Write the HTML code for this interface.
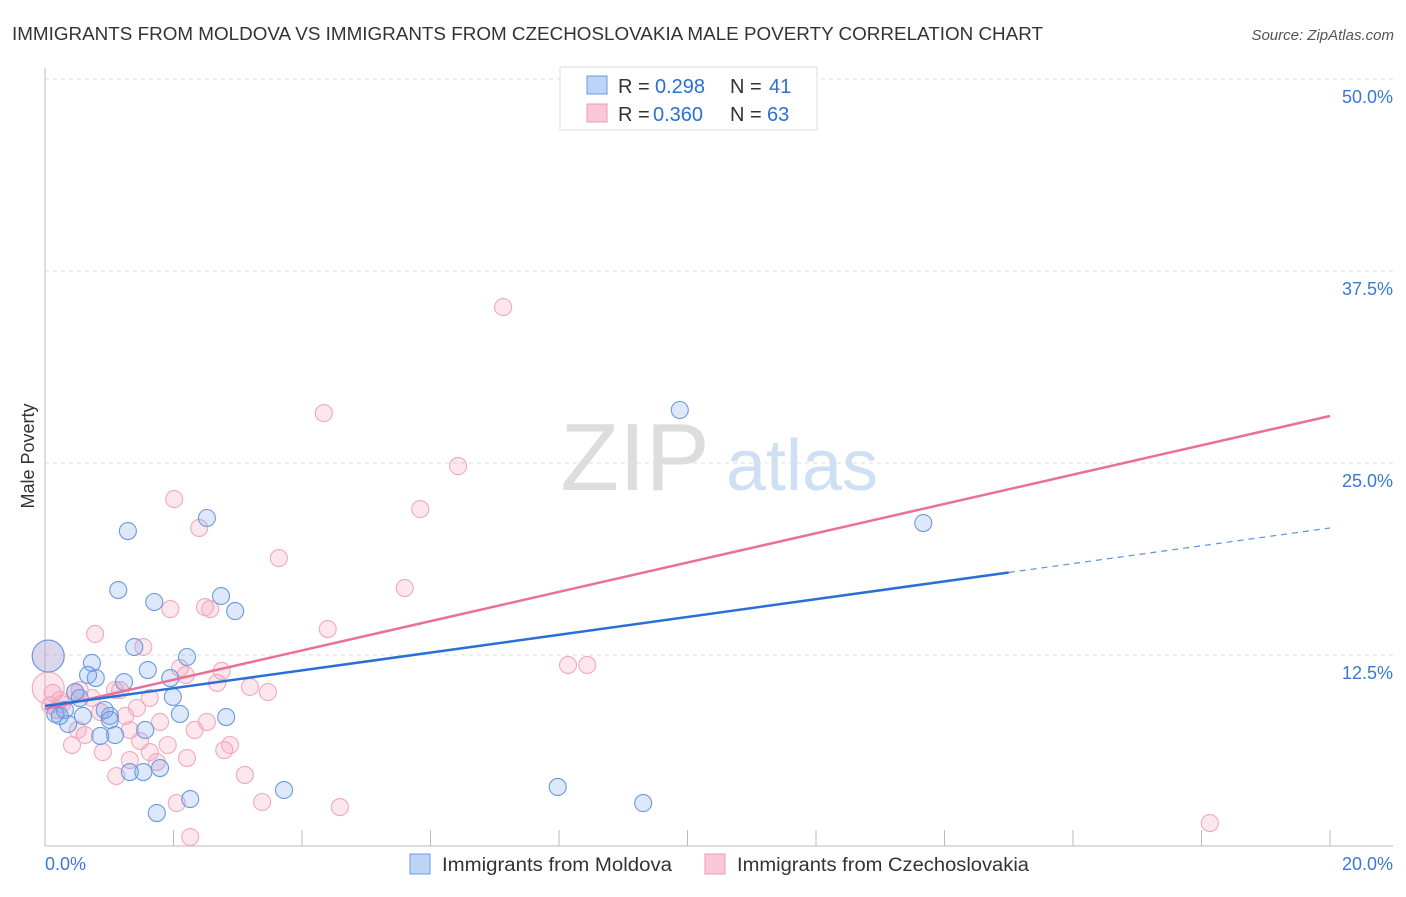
<!DOCTYPE html>
<html><head><meta charset="utf-8"><style>
body{margin:0;background:#fff;font-family:"Liberation Sans",sans-serif}
svg text{font-family:"Liberation Sans",sans-serif}
</style></head><body>
<svg id="c" width="1406" height="892" xmlns="http://www.w3.org/2000/svg">
<text x="12" y="40" font-size="18" fill="#333" textLength="1031" lengthAdjust="spacingAndGlyphs">IMMIGRANTS FROM MOLDOVA VS IMMIGRANTS FROM CZECHOSLOVAKIA MALE POVERTY CORRELATION CHART</text>
<text x="1394" y="40" font-size="15" fill="#555" text-anchor="end" font-style="italic">Source: ZipAtlas.com</text>
<text transform="translate(34,456) rotate(-90)" font-size="18" fill="#333" text-anchor="middle">Male Poverty</text>
<g>
<text x="635" y="490" font-size="96" fill="#ddd" text-anchor="middle" font-family="Liberation Serif">ZIP</text>
<text x="802" y="490" font-size="72" fill="#cfe0f5" text-anchor="middle">atlas</text>
</g>
<g id="grid"></g><g id="pts"></g><g id="lines"></g>
<g>
<rect x="560" y="67" width="257" height="63" fill="#fff" stroke="#ddd"/>
<rect x="587" y="76" width="20" height="18" fill="#bcd4f5" stroke="#6a9ae0"/>
<rect x="587" y="104" width="20" height="18" fill="#f9c8d6" stroke="#ee9ab2"/>
<text x="618" y="93" font-size="20" fill="#333">R =</text>
<text x="655" y="93" font-size="20" fill="#2a6fd6">0.298</text>
<text x="730" y="93" font-size="20" fill="#333">N =</text>
<text x="769" y="93" font-size="20" fill="#2a6fd6">41</text>
<text x="618" y="121" font-size="20" fill="#333">R =</text>
<text x="653" y="121" font-size="20" fill="#2a6fd6">0.360</text>
<text x="730" y="121" font-size="20" fill="#333">N =</text>
<text x="767" y="121" font-size="20" fill="#2a6fd6">63</text>
</g>
<g>
<rect x="410" y="854" width="20" height="20" fill="#bcd4f5" stroke="#6a9ae0"/>
<text x="442" y="871" font-size="19" fill="#333" textLength="230" lengthAdjust="spacingAndGlyphs">Immigrants from Moldova</text>
<rect x="705" y="854" width="20" height="20" fill="#f9c8d6" stroke="#ee9ab2"/>
<text x="737" y="871" font-size="19" fill="#333" textLength="292" lengthAdjust="spacingAndGlyphs">Immigrants from Czechoslovakia</text>
</g>
</svg>
<script>
const yTicks=[12.5,25,37.5,50];
const yTickLabels=["12.5%","25.0%","37.5%","50.0%"];
const xTickVals=[0,2,4,6,8,10,12,14,16,18,20];
const moldovaX=[1.29,2.52,1.14,1.70,2.74,2.96,1.39,2.21,0.73,1.60,0.67,0.79,1.95,1.23,0.47,0.54,1.99,0.16,0.23,0.36,0.59,1.01,2.10,2.82,0.93,1.09,0.86,1.56,1.32,1.53,1.79,2.26,1.74,3.72,7.98,9.31,9.88,13.67,0.05,0.31,1.01];
const moldovaY=[20.57,21.42,16.73,15.95,16.34,15.36,13.02,12.37,11.98,11.52,11.20,11.00,11.00,10.74,10.09,9.70,9.77,8.66,8.53,8.01,8.53,8.53,8.66,8.46,8.92,7.29,7.23,7.62,4.88,4.88,5.14,3.12,2.21,3.71,3.91,2.86,28.45,21.09,12.43,8.92,8.27];
const czechX=[2.01,2.40,3.64,5.84,6.43,4.34,7.13,5.60,10.97,0.78,1.53,1.95,2.49,2.57,4.40,8.14,8.44,0.05,0.05,0.47,0.54,0.26,0.08,0.19,1.17,1.63,2.10,2.19,2.75,2.68,3.19,3.47,0.86,1.25,1.43,1.79,2.33,2.52,1.91,0.42,0.62,0.90,1.32,1.32,1.74,2.21,2.79,3.11,1.11,2.05,3.38,4.59,2.26,18.13,0.23,1.48,0.51,0.73,1.09,0.12,2.88,1.63];
const czechY=[22.65,20.77,18.81,22.00,24.80,28.25,35.15,16.86,49.93,13.87,13.02,15.49,15.62,15.49,14.19,11.85,11.85,12.43,10.35,10.09,10.22,9.31,9.24,8.92,10.22,9.70,11.65,11.20,11.46,10.68,10.42,10.09,8.79,8.53,9.05,8.14,7.62,8.14,6.64,6.64,7.29,6.18,7.62,5.66,5.53,5.79,6.31,4.69,4.62,2.86,2.93,2.60,0.65,1.56,9.57,6.90,7.62,9.70,10.22,10.03,6.64,6.18];
const bigMoldova=[38];const bigCzech=[17,18];
const moldovaTrend=[9.18,20.77];const moldovaSolidEnd=15.0;
const czechTrend=[8.98,28.06];
const NS="http://www.w3.org/2000/svg";
const X=v=>45+v/20*1285, Y=v=>847-v*15.36;
function mk(t,a,p){const e=document.createElementNS(NS,t);for(const k in a)e.setAttribute(k,a[k]);p.appendChild(e);return e;}
const g=document.getElementById('grid');
yTicks.forEach((t,i)=>{
 const l=mk('line',{x1:45,x2:1393,y1:Y(t),y2:Y(t),stroke:'#ddd','stroke-dasharray':'4,4'},g);
 
 
 const tx=mk('text',{x:1393,y:Y(t)+24,'font-size':18,fill:'#3a78d8','text-anchor':'end'},g);tx.textContent=yTickLabels[i];
 
 
});
mk('line',{x1:45,x2:45,y1:68,y2:846,stroke:'#bbb'},g);
mk('line',{x1:45,x2:1393,y1:846,y2:846,stroke:'#bbb'},g);
xTickVals.forEach(t=>{const l=mk('line',{x1:X(t),x2:X(t),y1:830,y2:846,stroke:'#bbb'},g);
 
 });
let a=mk('text',{x:45,y:870,'font-size':18,fill:'#3a78d8'},g);a.textContent="0.0%";


a=mk('text',{x:1393,y:870,'font-size':18,fill:'#3a78d8','text-anchor':'end'},g);a.textContent="20.0%";


const p=document.getElementById('pts');
function draw(xs,ys,big,fill,stroke,name){xs.forEach((x,i)=>{
 const c=mk('circle',{cx:X(x),cy:Y(ys[i]),r:big.includes(i)?16:8.5,fill:fill,stroke:stroke,'stroke-width':1.1},p);
 
 });}
draw(czechX,czechY,bigCzech,'rgba(244,160,185,0.25)','#f2a8be','czechoslovakia-point');
draw(moldovaX,moldovaY,bigMoldova,'rgba(120,165,235,0.25)','#6a9ae0','moldova-point');
const L=document.getElementById('lines');
const mAt=v=>moldovaTrend[0]+(moldovaTrend[1]-moldovaTrend[0])*v/20;
let ln=mk('line',{x1:X(0),y1:Y(czechTrend[0]),x2:X(20),y2:Y(czechTrend[1]),stroke:'#e8709a','stroke-width':2.5},L);


ln=mk('line',{x1:X(0),y1:Y(mAt(0)),x2:X(moldovaSolidEnd),y2:Y(mAt(moldovaSolidEnd)),stroke:'#2a6fd6','stroke-width':2.5},L);


ln=mk('line',{x1:X(moldovaSolidEnd),y1:Y(mAt(moldovaSolidEnd)),x2:X(20),y2:Y(mAt(20)),stroke:'#5e93dc','stroke-width':1.2,'stroke-dasharray':'6,5'},L);


</script>
</body></html>
